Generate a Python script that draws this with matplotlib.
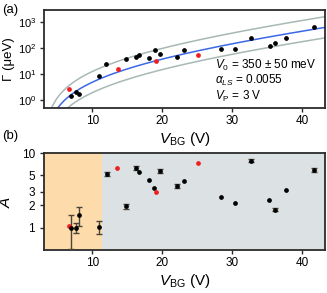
import numpy as np
import matplotlib
matplotlib.use('Agg')
import matplotlib.pyplot as plt

plt.rcParams['font.family'] = ['Liberation Sans', 'DejaVu Sans']
plt.rcParams['mathtext.fontset'] = 'custom'
plt.rcParams['mathtext.rm'] = 'Liberation Sans'
plt.rcParams['mathtext.it'] = 'Liberation Sans:italic'
plt.rcParams['mathtext.bf'] = 'Liberation Sans:bold'

# (a) linewidth Gamma vs back gate voltage
vbg_black = [6.9, 7.7, 8.1, 10.9, 12.0, 14.8, 16.3, 16.7, 18.1, 18.9, 19.7, 22.1, 23.1,
             28.3, 30.4, 32.7, 35.3, 36.1, 37.7, 41.7]
gamma_black = [1.46, 1.97, 1.65, 8.5, 24.6, 37, 43, 51, 40, 83, 58, 43, 80,
               93, 93, 230, 120, 148, 230, 645]
vbg_red = [6.6, 13.6, 19.1, 25.1]
gamma_red = [2.6, 15, 31, 53]

# fit parameters (log10 G = a + n*log10(V - Vp) + k*V), band = +-50 meV
fit_a, fit_n, fit_k, fit_vp = -0.939, 1.613, 0.0262, 3.0
band_up, band_down = 0.41, -0.40

# (b) amplitude A vs back gate voltage
vbg_err = [6.96, 7.7, 8.05, 10.9, 12.05, 14.8, 16.3, 19.7, 22.1, 32.7, 36.05, 41.6]
a_err = [1.0, 1.0, 1.47, 1.02, 5.18, 1.92, 6.36, 5.75, 3.6, 7.9, 1.74, 5.94]
a_err_size = [0.49, 0.15, 0.42, 0.21, 0.3, 0.12, 0.4, 0.3, 0.25, 0.35, 0.08, 0.3]
vbg_noerr = [16.7, 18.05, 18.8, 23.1, 28.3, 30.4, 35.2, 37.7]
a_noerr = [5.5, 4.4, 3.4, 4.27, 2.59, 2.11, 2.31, 3.17]
vbg_red_b = [6.6, 13.5, 19.05, 25.1]
a_red_b = [1.06, 6.3, 3.02, 7.36]
v_split = 11.35

xmin, xmax = 3.1, 43.2
spine_col = '#2b2b2b'
red = '#f01e1e'

fig = plt.figure(figsize=(3.27, 2.93), dpi=100)
ax1 = fig.add_axes([0.1346, 0.6314, 0.859, 0.3345])
ax2 = fig.add_axes([0.1346, 0.1468, 0.859, 0.331])

v = np.linspace(fit_vp + 0.05, xmax, 400)
logg = fit_a + fit_n * np.log10(v - fit_vp) + fit_k * v
ax1.plot(v, 10 ** (logg + band_up), color='#a8b8b6', lw=1.1, zorder=1)
ax1.plot(v, 10 ** (logg + band_down), color='#a8b8b6', lw=1.1, zorder=1)
ax1.plot(v, 10 ** logg, color='#3b68e6', lw=1.1, zorder=2)
ax1.plot(vbg_black, gamma_black, 'o', color='black', ms=2.4, zorder=3)
ax1.plot(vbg_red, gamma_red, 'o', color=red, ms=2.4, zorder=3)
ax1.set_yscale('log')
ax1.set_xlim(xmin, xmax)
ax1.set_ylim(0.5, 2800)
ax1.set_yticks([1, 10, 100, 1000])
ax1.minorticks_off()
ax1.set_xticks([10, 20, 30, 40])
ax1.set_xlabel(r'$V_\mathrm{BG}$ (V)', fontsize=11, labelpad=2)
ax1.text(0.607, 0.436, r'$V_0$ = 350 ± 50 meV', transform=ax1.transAxes, fontsize=8.5, va='center')
ax1.text(0.607, 0.279, r'$\alpha_{LS}$ = 0.0055', transform=ax1.transAxes, fontsize=8.5, va='center')
ax1.text(0.607, 0.115, r'$V_\mathrm{P}$ = 3 V', transform=ax1.transAxes, fontsize=8.5, va='center')
fig.text(0.0285, 0.799, 'Γ (μeV)', fontsize=9.5, rotation=90, ha='center', va='center')

ax2.axvspan(xmin, v_split, color='#fddbab', lw=0, zorder=0)
ax2.axvspan(v_split, xmax, color='#dce1e4', lw=0, zorder=0)
ax2.errorbar(vbg_err, a_err, yerr=a_err_size, fmt='o', color='black', ecolor='#4a4538',
             ms=2.4, elinewidth=1.0, capsize=2.5, capthick=1.0, zorder=3)
ax2.plot(vbg_noerr, a_noerr, 'o', color='black', ms=2.4, zorder=3)
ax2.plot(vbg_red_b, a_red_b, 'o', color=red, ms=2.4, zorder=3)
ax2.set_yscale('log')
ax2.set_xlim(xmin, xmax)
ax2.set_ylim(0.5, 10)
ax2.set_yticks([1, 2, 3, 5, 10])
ax2.set_yticklabels(['1', '2', '3', '5', '10'])
ax2.minorticks_off()
ax2.set_xticks([10, 20, 30, 40])
ax2.set_ylabel(r'$A$', fontsize=11)
ax2.yaxis.set_label_coords(-0.11, 0.5)
ax2.set_xlabel(r'$V_\mathrm{BG}$ (V)', fontsize=11, labelpad=2)

for ax in (ax1, ax2):
    for s in ax.spines.values():
        s.set_linewidth(1.3)
        s.set_color(spine_col)
    ax.tick_params(direction='out', length=3, width=1, labelsize=8.5, pad=2, colors=spine_col,
                   labelcolor='black')
ax1.tick_params(axis='y', pad=2.5, labelsize=8)
ax2.tick_params(axis='y', pad=3.5)

fig.text(0.006, 0.966, '(a)', fontsize=9.5, va='center')
fig.text(0.006, 0.535, '(b)', fontsize=9.5, va='center')

fig.savefig('out.png', dpi=100)
